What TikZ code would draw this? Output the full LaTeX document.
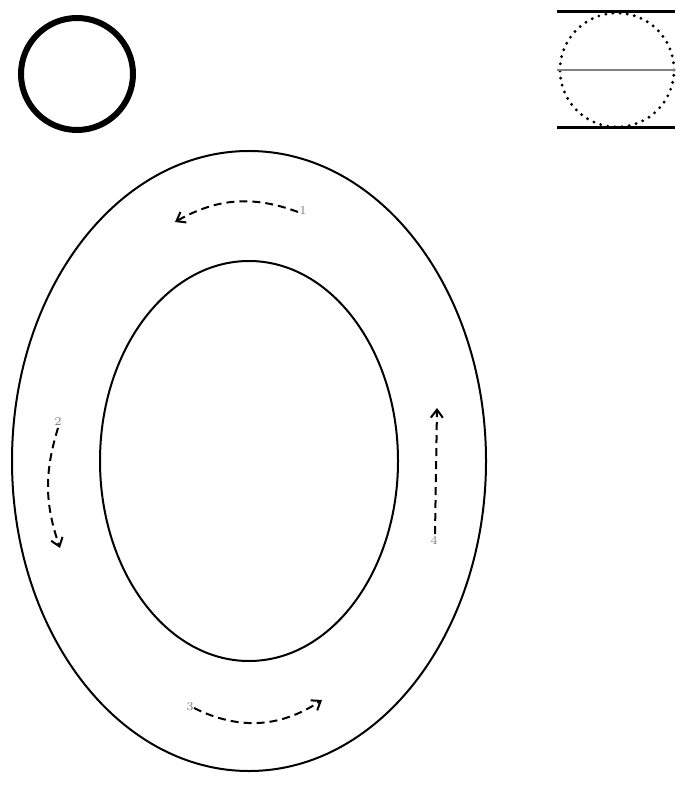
\documentclass[tikz,border=0pt]{standalone}
\usepackage{tikz}
\usetikzlibrary{arrows.meta}

\begin{document}
\begin{tikzpicture}[
        x=0.5pt, y=0.5pt,
        ring/.style={draw, line width=1pt},
        flow/.style={dashed, line width=1pt, dash pattern=on 4pt off 2.5pt, -{Straight Barb[length=4pt, width=6pt]}},
        num/.style={font=\fontsize{6}{7}\selectfont, text=gray, inner sep=0.5pt},
        rail/.style={line width=1.5pt},
        dots/.style={line width=1.6pt, line cap=round, dash pattern=on 0pt off 3.6pt}
    ]
    \useasboundingbox (0,0) rectangle (675,-796);

    % top left ring
    \draw[line width=3pt] (77,-74) circle (56);

    % top right rolling circle between rails
    \draw[rail] (557,-12) -- (675,-12);
    \draw[rail] (557,-128) -- (675,-128);
    \draw[dots] (617,-70) circle (57);
    \draw[gray, line width=1pt] (557,-70) -- (675,-70);

    % track
    \draw[ring] (249,-461) ellipse (237 and 310);
    \draw[ring] (249,-461) ellipse (149 and 200);

    % flow markers
    \coordinate (t1) at (298,-212);
    \coordinate (h1) at (175,-222);
    \coordinate (t2) at (58,-428);
    \coordinate (h2) at (60,-548);
    \coordinate (t3) at (194,-708);
    \coordinate (h3) at (322,-700);
    \coordinate (t4) at (435,-534);
    \coordinate (h4) at (437,-408);

    \node[num] (n1) at (303,-211) {1};
    \node[num] (n2) at (58,-422) {2};
    \node[num] (n3) at (190,-707) {3};
    \node[num] (n4) at (434,-540) {4};

    \draw[flow] (t1) to[bend right=25] (h1);
    \draw[flow] (t2) to[bend right=18] (h2);
    \draw[flow] (t3) to[bend right=30] (h3);
    \draw[flow] (t4) -- (h4);
\end{tikzpicture}
\end{document}
